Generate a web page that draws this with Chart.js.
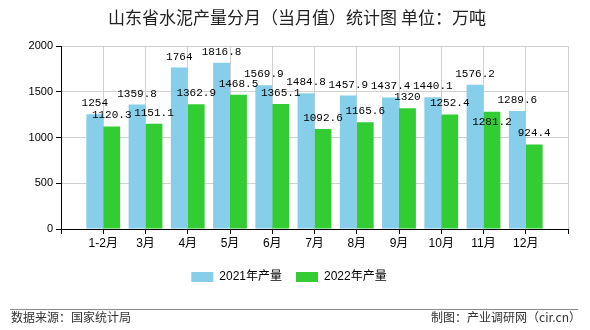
<!DOCTYPE html>
<html>
<head>
<meta charset="utf-8">
<script src="https://cdn.jsdelivr.net/npm/chart.js@4/dist/chart.umd.min.js"></script>
<style>
    body { margin: 0; background: #fff; }
    #wrap { position: relative; width: 590px; height: 330px; font-family: "Liberation Sans", "Noto Sans CJK SC", sans-serif; }
    #chartBox { position: absolute; left: 0; top: 0; width: 590px; height: 330px; }
    #title { position: absolute; top: 4px; left: 0; width: 594px; text-align: center; font-size: 17px; color: #222; font-family: "Noto Sans CJK SC", sans-serif; }
    #rule { position: absolute; top: 309px; left: 10px; width: 568px; height: 1px; background: #8a8a8a; }
    .foot { position: absolute; top: 308px; font-size: 12px; color: #333; font-family: "Noto Sans CJK SC", sans-serif; }
    #src { left: 11px; }
    #maker { right: 9px; }
</style>
</head>
<body>
<div id="wrap">
    <div id="chartBox"><canvas id="myChart"></canvas></div>
    <div id="title">山东省水泥产量分月（当月值）统计图 单位：万吨</div>
    <div id="rule"></div>
    <div class="foot" id="src">数据来源：国家统计局</div>
    <div class="foot" id="maker">制图：产业调研网（cir.cn）</div>
</div>
<script>
// categories and values
const months = ['1-2月', '3月', '4月', '5月', '6月', '7月', '8月', '9月', '10月', '11月', '12月'];
const output2021 = [1254, 1359.8, 1764, 1816.8, 1569.9, 1484.8, 1457.9, 1437.4, 1440.1, 1576.2, 1289.6];
const output2022 = [1120.3, 1151.1, 1362.9, 1468.5, 1365.1, 1092.6, 1165.6, 1320, 1252.4, 1281.2, 924.4];
const yTicks = [0, 500, 1000, 1500, 2000];

// empty slot on both ends so the months sit on the grid lines
function padded(arr, blank) {
    return [blank].concat(arr, [blank]);
}

// value above each bar; a label that would hit one already drawn goes inside the bar
const valueLabels = {
    id: 'valueLabels',
    afterDatasetsDraw(chart) {
        const ctx = chart.ctx;
        const boxes = [];
        ctx.save();
        ctx.font = '11px "Liberation Mono", monospace';
        ctx.fillStyle = '#000';
        ctx.textAlign = 'center';
        ctx.textBaseline = 'alphabetic';

        const hits = (b) => boxes.some(o =>
            b.l < o.r && b.r > o.l && b.t < o.b && b.b > o.t);

        // 2021 labels first, 2022 labels give way
        const items = [];
        chart.data.datasets.forEach((ds, i) => {
            chart.getDatasetMeta(i).data.forEach((bar, j) => {
                const v = ds.data[j];
                if (v == null) return;
                items.push({ text: String(v), x: bar.x, y: bar.y });
            });
        });

        items.forEach(it => {
            const w = ctx.measureText(it.text).width;
            let base = it.y - 8;
            let box = { l: it.x - w / 2, r: it.x + w / 2, t: base - 8, b: base };
            if (hits(box)) {
                base = it.y + 13;
                box = { l: it.x - w / 2, r: it.x + w / 2, t: base - 8, b: base };
            }
            boxes.push(box);
            ctx.fillText(it.text, it.x, base);
        });
        ctx.restore();
    }
};

const ctx = document.getElementById('myChart');
const myChart = new Chart(ctx, {
    type: 'bar',
    data: {
        labels: padded(months, ''),
        datasets: [{
            label: '2021年产量',
            data: padded(output2021, null),
            backgroundColor: '#87CEEB',
            categoryPercentage: 0.8,
            barPercentage: 1.0
        }, {
            label: '2022年产量',
            data: padded(output2022, null),
            backgroundColor: '#32CD32',
            categoryPercentage: 0.8,
            barPercentage: 1.0
        }]
    },
    options: {
        responsive: true,
        maintainAspectRatio: false,
        animation: false,
        layout: {
            padding: { left: 10, right: 22, top: 46, bottom: 37 }
        },
        scales: {
            x: {
                offset: false,
                grid: {
                    offset: false,
                    color: '#d0d0d0',
                    tickColor: '#000',
                    tickLength: 5
                },
                border: { color: '#000' },
                ticks: {
                    autoSkip: false,
                    maxRotation: 0,
                    padding: 2,
                    color: '#000',
                    font: { size: 12, family: '"Liberation Sans", "Noto Sans CJK SC"' }
                },
                afterFit(scale) { scale.height = 28; }
            },
            y: {
                min: yTicks[0],
                max: yTicks[yTicks.length - 1],
                afterBuildTicks(scale) {
                    scale.ticks = yTicks.map(v => ({ value: v }));
                },
                grid: {
                    color: '#d0d0d0',
                    tickColor: '#000',
                    tickLength: 5
                },
                border: { color: '#000' },
                ticks: {
                    padding: 3,
                    color: '#000',
                    font: { size: 11, family: '"Liberation Sans"' },
                    callback: (v) => String(v)
                },
                afterFit(scale) { scale.width = 51; }
            }
        },
        plugins: {
            legend: {
                position: 'bottom',
                labels: {
                    boxWidth: 22,
                    boxHeight: 10,
                    padding: 14,
                    color: '#000',
                    font: { size: 12, family: '"Liberation Sans", "Noto Sans CJK SC"' }
                }
            },
            tooltip: { enabled: false }
        }
    },
    plugins: [valueLabels]
});
</script>
</body>
</html>
